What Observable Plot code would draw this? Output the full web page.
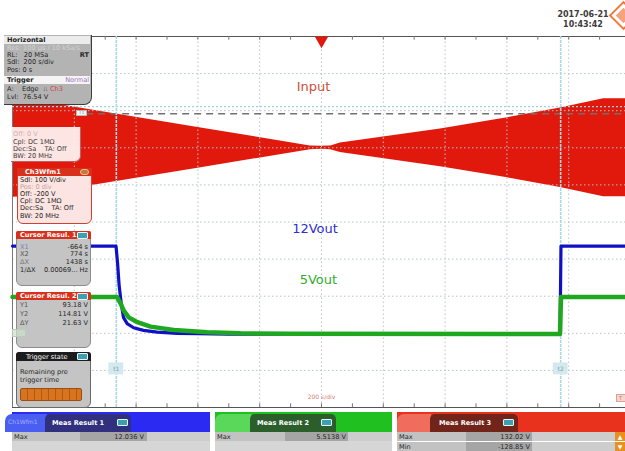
<!DOCTYPE html>
<html>
<head>
<meta charset="utf-8">
<script src="https://cdn.jsdelivr.net/npm/d3@7"></script>
<script src="https://cdn.jsdelivr.net/npm/@observablehq/plot@0.6"></script>
<style>
html,body{margin:0;padding:0;background:#fff;overflow:hidden;}
#wrap{position:relative;width:625px;height:451px;overflow:hidden;font-family:"DejaVu Sans",sans-serif;}
#chart{position:absolute;left:0;top:0;width:625px;height:451px;}
.a{position:absolute;box-sizing:border-box;}
.t{position:absolute;white-space:pre;font-size:6.6px;line-height:8px;height:8px;color:#262626;}
</style>
</head>
<body>
<div id="wrap">
  <div id="chart"></div>
  <div id="ui"></div>
</div>
<script>
// ---------------- data (time in s, 200 s/div; vertical in divisions) ----------------
const gridTimes = [-800, -600, -400, -200, 0, 200, 400, 600, 800];
const gridDivs = [-4, -3, -2, -1, 0, 1, 2, 3, 4];
const tickTimes = [-900, -800, -700, -600, -500, -400, -300, -200, -100, 0, 100, 200, 300, 400, 500, 600, 700, 800, 900];
const cursorTimes = [-664, 774];
const cursorNames = ["t1", "t2"];
const cursorLevel = 3.11;
const triggerLevel = 2.92;
const inputCenter = 2.0;

// Input (Ch3) envelope: half-amplitude in divisions
const envTime = [-1000, -960, -738, -385, -36, 0, 30, 61, 385, 602, 773, 913, 1000];
const envAmp  = [1.33, 1.32, 1.01, 0.53, 0.05, 0.04, 0.05, 0.13, 0.51, 0.81, 1.07, 1.32, 1.32];

// 12Vout trace
const v12Time = [-1000, -665, -660, -655, -648, -641, -629, -608, -576, -532, -467, -400, -300, 772, 775, 1000];
const v12Div  = [-0.65, -0.65, -1.1, -1.7, -2.2, -2.57, -2.74, -2.85, -2.92, -2.97, -3.0, -3.01, -3.02, -3.02, -0.65, -0.65];

// 5Vout trace
const v5Time = [-1000, -662, -650, -640, -624, -596, -553, -478, -370, -262, -100, 772, 775, 1000];
const v5Div  = [-2.02, -2.02, -2.20, -2.39, -2.57, -2.70, -2.82, -2.91, -2.97, -3.0, -3.01, -3.02, -2.02, -2.02];

const labelText  = ["Input", "12Vout", "5Vout"];
const labelTime  = [-26, -21, -10];
const labelDiv   = [3.63, -0.18, -1.55];
const labelColor = ["#c9503c", "#2f2fd0", "#2fae2f"];

// ---------------- build tables ----------------
const envelope = envTime.map((t, i) => ({t, lo: inputCenter - envAmp[i], hi: inputCenter + envAmp[i]}));
const v12 = v12Time.map((t, i) => ({t, v: v12Div[i]}));
const v5 = v5Time.map((t, i) => ({t, v: v5Div[i]}));
const labels = labelText.map((s, i) => ({s, t: labelTime[i], v: labelDiv[i], c: labelColor[i]}));
const cursors = cursorTimes.map((t, i) => ({t, name: cursorNames[i]}));

const RED = "#e0190c";
const grid = {stroke: "#b9c3c8", strokeWidth: 1, strokeDasharray: "1.5,2.5"};

const chart = Plot.plot({
  width: 625, height: 451, margin: 0,
  x: {domain: [-1000, 1000], range: [12, 630], axis: null},
  y: {domain: [-5, 5], range: [407, 36], axis: null},
  color: {type: "identity"},
  style: {background: "#fff", fontFamily: "DejaVu Sans", overflow: "hidden"},
  marks: [
    Plot.areaY(envelope, {x: "t", y1: "lo", y2: "hi", fill: RED}),
    Plot.ruleX(gridTimes, {...grid, y1: -5, y2: 5}),
    Plot.ruleY(gridDivs, {...grid, x1: -1000, x2: 1000}),
    Plot.ruleY([5, -5], {stroke: "#555", strokeWidth: 1.2, x1: -1000, x2: 1000}),
    Plot.ruleX([-1000], {stroke: "#777", strokeWidth: 1, y1: -5, y2: 5}),
    Plot.ruleX(tickTimes, {y1: 5, y2: 4.9, stroke: "#777"}),
    Plot.ruleX(tickTimes, {y1: -5, y2: -4.9, stroke: "#777"}),
    Plot.ruleY([cursorLevel], {x1: -1000, x2: 1000, stroke: "#9fd2e4", strokeWidth: 1.4, strokeDasharray: "2,2"}),
    Plot.ruleY([triggerLevel], {x1: -760, x2: 1000, stroke: "#707070", strokeWidth: 1.5, strokeDasharray: "7,5"}),
    Plot.ruleX(cursorTimes, {y1: -5, y2: 5, stroke: "#a6dae3", strokeWidth: 1.6, strokeDasharray: "3,1"}),
    Plot.line(v12, {x: "t", y: "v", stroke: "#1010c4", strokeWidth: 3.2}),
    Plot.line(v5, {x: "t", y: "v", stroke: "#1fa81f", strokeWidth: 4.5}),
    Plot.text(labels, {x: "t", y: "v", text: "s", fill: "c", fontSize: 13, fontFamily: "DejaVu Sans"}),
    Plot.dot([0], {x: d => d, y: 5, symbol: "triangle", rotate: 180, r: 5, fill: RED, dy: 4}),
    Plot.rect(cursors, {x1: d => d.t - 24, x2: d => d.t + 24, y1: -3.8, y2: -4.12, fill: "#d3e9ed"}),
    Plot.text(cursors, {x: "t", y: -3.96, text: "name", fill: "#7fa6ae", fontSize: 6}),
    Plot.text(["200 s/div"], {x: 0, y: -4.72, text: d => d, fill: "#d0806e", fontSize: 6})
  ]
});
document.getElementById("chart").appendChild(chart);

// ---------------- instrument panels (HTML overlay) ----------------
const ui = document.getElementById("ui");
function el(x, y, w, h, css, html) {
  const d = document.createElement("div");
  d.className = "a";
  d.style.cssText = `left:${x}px;top:${y}px;width:${w}px;height:${h}px;` + (css || "");
  if (html != null) d.innerHTML = html;
  ui.appendChild(d);
  return d;
}
function tx(x, cy, s, css, right) {
  const d = document.createElement("div");
  d.className = "t";
  d.style.cssText = (right ? `right:${625 - x}px;` : `left:${x}px;`) + `top:${cy - 4}px;` + (css || "");
  d.innerHTML = s;
  ui.appendChild(d);
}
function ico(x, y) { el(x, y, 11, 7, "background:#3d9fb0;border:1px solid #dff6f8;border-radius:1px;"); }

// Horizontal / Trigger
el(4, 35, 88, 70, "background:#b3b3b3;border-right:1.5px solid #3c3c3c;border-bottom:1.5px solid #3c3c3c;border-bottom-right-radius:8px;");
el(4, 36, 86, 8, "background:#ececec;");
tx(7, 40, "Horizontal", "font-weight:bold;color:#222");
tx(7, 48, "Res: 100 µs / 10 kSa/s", "color:#d2d2d2");
tx(7, 55, "RL:   20 MSa"); tx(89, 55, "RT", "font-weight:bold", true);
tx(7, 62, "Sdl:  200 s/div");
tx(7, 70, "Pos: 0 s");
el(4, 76, 86, 8, "background:#f4f4f4;");
tx(7, 80, "Trigger", "font-weight:bold;color:#222"); tx(89, 80, "Normal", "color:#a070c8", true);
tx(7, 89, "A:    Edge  ⎍ <span style='color:#d04848'>Ch3</span>");
tx(7, 97, "Lvl:  76.54 V");

// small level marker label
el(76, 110, 11, 6, "background:#f4f4f4;border:1px solid #bbb;font-size:4.5px;line-height:4px;color:#888;text-align:center;", "T1");

// Ch (behind)
el(11, 127, 70, 35, "background:rgba(255,246,246,0.92);border-right:1px solid #c06060;border-bottom:1px solid #c06060;border-bottom-right-radius:6px;");
tx(13, 134, "Off: 0 V", "color:#cfb0b0");
tx(13, 142, "Cpl: DC 1MΩ", "color:#3a3a3a");
tx(13, 149, "Dec:Sa    TA: Off", "color:#3a3a3a");
tx(13, 156, "BW: 20 MHz", "color:#3a3a3a");

// Ch3Wfm1
el(17, 168, 75, 56, "background:#fbe4e1;border:1px solid #d2402e;border-radius:2px 2px 6px 6px;");
el(17, 168, 75, 8, "background:#d9301c;border-radius:2px 2px 0 0;");
tx(25, 172, "Ch3Wfm1", "color:#fff;font-weight:bold");
el(80, 169, 9, 6, "background:#c07a3a;border-radius:3px;border:1px solid #f0c090;");
tx(20, 180, "Sdl: 100 V/div");
tx(20, 187, "Pos: 0 div", "color:#c9a0a0");
tx(20, 194, "Off: -200 V");
tx(20, 201, "Cpl: DC 1MΩ");
tx(20, 208, "Dec:Sa    TA: Off");
tx(20, 216, "BW: 20 MHz");

// Cursor Result 1
el(16, 231, 75, 55, "background:#c4c4c4;border:1px solid #8c8c8c;border-radius:2px 2px 6px 6px;");
el(16, 231, 75, 8, "background:#d9301c;border-radius:2px 2px 0 0;");
tx(20, 235, "Cursor Resul. 1", "color:#fff;font-weight:bold");
ico(77, 232);
tx(20, 247, "X1", "color:#7a80b0"); tx(88, 247, "-664 s", "", true);
tx(20, 254, "X2", "color:#555"); tx(88, 254, "774 s", "", true);
tx(20, 262, "ΔX", "color:#777"); tx(88, 262, "1438 s", "", true);
tx(20, 270, "1/ΔX"); tx(88, 270, "0.00069... Hz", "", true);

// Cursor Result 2
el(16, 292, 75, 56, "background:#c4c4c4;border:1px solid #8c8c8c;border-radius:2px 2px 6px 6px;");
el(16, 292, 75, 8, "background:#d9301c;border-radius:2px 2px 0 0;");
tx(20, 296, "Cursor Resul. 2", "color:#fff;font-weight:bold");
ico(77, 293);
tx(20, 305, "Y1", "color:#555"); tx(88, 305, "93.18 V", "", true);
tx(20, 314, "Y2", "color:#555"); tx(88, 314, "114.81 V", "", true);
tx(20, 323, "ΔY", "color:#555"); tx(88, 323, "21.63 V", "", true);

// faint channel label at left edge
el(12, 329, 14, 8, "background:rgba(205,225,205,0.7);border:1px solid #b8cdb8;border-left:none;");

// Trigger state
el(16, 352, 75, 56, "background:#c4c4c4;border:1px solid #6a6a6a;border-radius:3px 3px 6px 6px;");
el(16, 352, 75, 9, "background:#1c1c1c;border-radius:3px 3px 0 0;");
tx(26, 356.5, "Trigger state", "color:#fff");
ico(77, 353);
tx(20, 372, "Remaining pre");
tx(20, 380, "trigger time");
el(20, 388, 62, 13, "background:repeating-linear-gradient(90deg,#d8741f 0 6px,#b25a14 6px 7px);border:1px solid #9a4e10;border-radius:2px;");

// right-edge reference marker (cut off)
el(616, 394, 12, 8, "background:#f3d6cf;border:1px solid #e0a090;font-size:5px;line-height:6px;color:#d07060;padding-left:2px;", "T");

// Meas Result 1 (blue)
el(12, 412, 198, 20, "background:#2a2af2;");
el(5, 414, 42, 18, "background:#4b5ef2;border-radius:7px 0 0 0;");
tx(8, 422, "Ch1Wfm1", "color:#a8b0ff;font-size:6px");
el(45, 414, 86, 18, "background:#30307e;border-radius:5px 5px 0 0;");
tx(52, 423, "Meas Result 1", "color:#fff;font-weight:bold");
ico(117, 419);
el(12, 432, 68, 9, "background:#c2c2c2;"); tx(14, 436.5, "Max");
el(80, 432, 67, 9, "background:#a5a5a5;"); tx(144, 436.5, "12.036 V", "", true);
el(147, 432, 63, 9, "background:#cdcdcd;");
el(12, 441, 198, 10, "background:#d6d6d6;");

// Meas Result 2 (green)
el(215, 412, 177, 20, "background:#20c020;");
el(215, 414, 36, 18, "background:#5ad85a;border-radius:7px 0 0 0;");
el(250, 414, 86, 18, "background:#2c5e2c;border-radius:5px 5px 0 0;");
tx(257, 423, "Meas Result 2", "color:#fff;font-weight:bold");
ico(321, 419);
el(215, 432, 70, 9, "background:#c2c2c2;"); tx(217, 436.5, "Max");
el(285, 432, 63, 9, "background:#a5a5a5;"); tx(346, 436.5, "5.5138 V", "", true);
el(348, 432, 44, 9, "background:#cdcdcd;");
el(215, 441, 177, 10, "background:#d6d6d6;");

// Meas Result 3 (red)
el(397, 412, 228, 20, "background:#e8321e;");
el(397, 414, 34, 18, "background:#f06c5c;border-radius:7px 0 0 0;");
el(430, 414, 88, 18, "background:#70241a;border-radius:5px 5px 0 0;");
tx(439, 423, "Meas Result 3", "color:#fff;font-weight:bold");
ico(503, 419);
el(397, 432, 69, 9, "background:#c2c2c2;"); tx(399, 436.5, "Max");
el(466, 432, 66, 9, "background:#a5a5a5;"); tx(530, 436.5, "132.02 V", "", true);
el(532, 432, 93, 9, "background:#cdcdcd;");
el(397, 442, 69, 9, "background:#c2c2c2;"); tx(399, 446.5, "Min");
el(466, 442, 66, 9, "background:#a5a5a5;"); tx(530, 446.5, "-128.85 V", "", true);
el(532, 442, 93, 9, "background:#cdcdcd;");
el(615, 432, 10, 9, "background:#e8901e;color:#fff;font-size:6px;line-height:9px;text-align:center;", "▲");
el(615, 442, 10, 9, "background:#e8901e;color:#fff;font-size:6px;line-height:9px;text-align:center;", "▼");

// timestamp and logo
el(550, 10, 66, 10, "font-size:8px;line-height:10px;text-align:center;color:#3c3c3c;font-weight:bold;", "2017-06-21");
el(550, 20, 66, 10, "font-size:8px;line-height:10px;text-align:center;color:#3c3c3c;font-weight:bold;", "10:43:42");
el(613, 5, 21, 21, "transform:rotate(45deg);border:2.5px solid #f07a3c;background:#fff;");
el(618, 10, 11, 11, "transform:rotate(45deg);background:#f6a27a;");
</script>
</body>
</html>
